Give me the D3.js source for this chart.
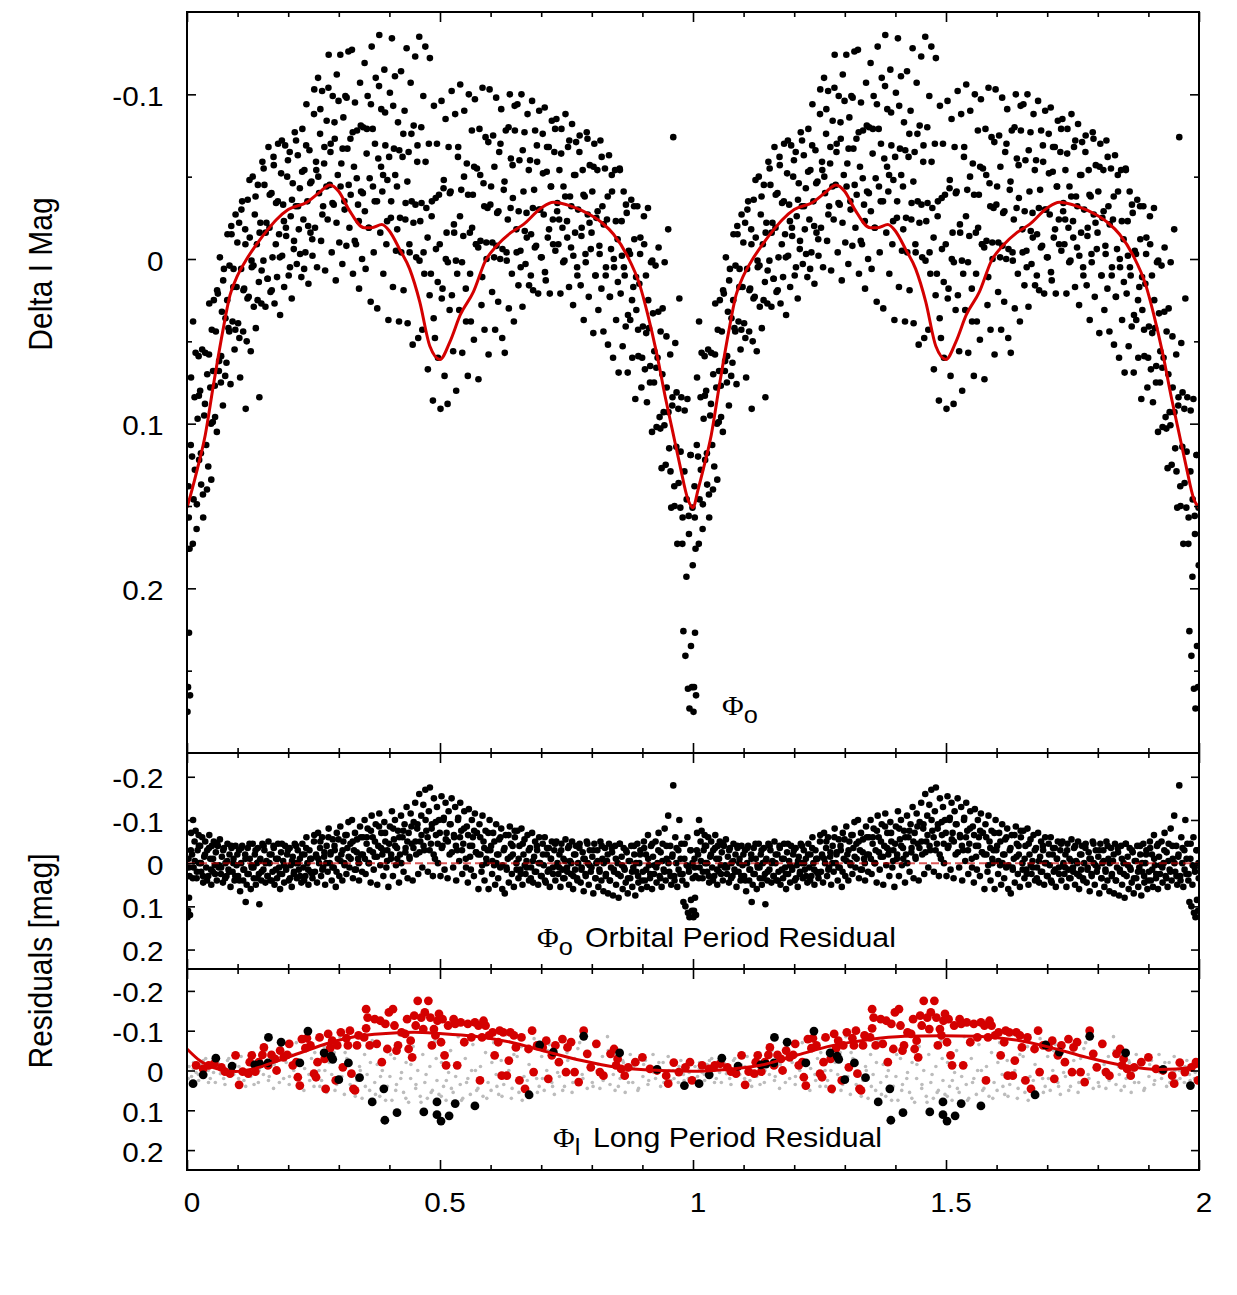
<!DOCTYPE html>
<html>
<head>
<meta charset="utf-8">
<script src="https://cdn.jsdelivr.net/npm/d3@7"></script>
<style>
  body { margin: 0; background: #fff; }
</style>
</head>
<body>
<div id="chart"></div>
<script>
// orbital light-curve model, one cycle [phase, delta I]
var orbitalModel = [[0,.151],[.01,.14],[.02,.128],[.036,.107],[.052,.077],[.07,.045],[.085,.022],[.1,.01],[.118,0],
  [.14,-.01],[.16,-.018],[.177,-.024],[.2,-.03],[.237,-.0345],[.26,-.04],[.283,-.045],[.3,-.041],[.32,-.03],
  [.35,-.019],[.365,-.019],[.385,-.021],[.4,-.017],[.42,-.006],[.44,.006],[.46,.026],[.48,.053],[.5,.061],
  [.52,.05],[.54,.034],[.566,.02],[.59,.001],[.612,-.008],[.64,-.016],[.665,-.021],[.7,-.031],[.724,-.0345],
  [.76,-.032],[.796,-.027],[.82,-.022],[.843,-.015],[.87,-.002],[.895,.016],[.91,.033],[.928,.057],[.946,.085],
  [.96,.105],[.974,.125],[.99,.146],[1,.151]];

// observations, one cycle [orbital phase, delta I, orbital residual]
var orbitalObs = [
  [.001,.275,.125],[.002,.26,.11],[.003,.138,-.01],[.004,.227,.08],[.005,.176,.03],[.006,.265,.12],[.008,.072,-.07],[.010,.12,-.02],[.012,.038,-.1],[.013,.146,.01],[.015,.084,-.05],[.017,.057,-.075],[.019,.164,.035],[.021,.097,-.03],[.023,.059,-.065],[.024,.122,0],
  [.026,.08,-.04],[.028,.137,.02],[.03,.055,-.06],[.032,.157,.045],[.034,.095,-.015],[.036,.057,-.05],[.038,.113,.01],[.04,.07,-.03],[.042,.126,.03],[.044,.027,-.065],[.046,.078,-.01],[.048,.134,.05],[.049,.043,-.04],
  [.051,.099,.02],[.053,.025,-.05],[.055,.077,.005],[.057,.044,-.025],[.059,.105,.04],[.061,.021,-.04],[.063,.068,.01],[.065,-.001,-.055],[.067,.075,.025],[.069,.032,-.015],[.071,.089,.045],[.073,.006,-.035],
  [.076,.036,0],[.078,.063,.03],[.08,-.015,-.045],[.082,.042,.015],[.084,.004,-.02],[.086,.076,.055],[.088,-.015,-.035],[.09,.038,.02],[.092,.006,-.01],[.094,.055,.04],[.096,-.027,-.04],[.098,.017,.005],
  [.101,.039,.03],[.103,-.022,-.03],[.105,.072,.065],[.107,.006,0],[.109,-.035,-.04],[.111,.044,.04],[.113,.018,.015],[.115,-.018,-.02],[.116,.091,.09],[.118,.05,.05],[.12,-.036,-.035],[.122,.023,.025],[.124,-.013,-.01],
  [.126,.056,.06],[.128,.005,.01],[.13,-.05,-.045],[.132,.029,.035],[.134,-.027,-.02],[.136,.042,.05],[.138,-.009,0],[.14,-.045,-.035],[.142,.014,.025],[.143,.084,.095],[.145,-.022,-.01],[.147,.027,.04],[.149,-.059,-.045],
  [.151,.001,.015],[.153,-.045,-.03],[.155,.029,.045],[.157,-.022,-.005],[.159,.012,.03],[.161,-.068,-.05],[.163,-.019,0],[.165,.02,.04],[.167,-.04,-.02],[.169,-.001,.02],[.171,-.062,-.04],[.173,.027,.05],
  [.176,-.034,-.01],[.178,.011,.035],[.18,-.07,-.045],[.182,-.015,.01],[.184,.034,.06],[.186,-.052,-.025],[.188,-.002,.025],[.19,-.033,-.005],[.192,.017,.045],[.194,-.069,-.04],[.196,-.014,.015],[.198,-.05,-.02],
  [.201,.01,.04],[.203,-.065,-.035],[.205,-.026,.005],[.207,.024,.055],[.209,-.046,-.015],[.211,-.006,.025],[.213,-.077,-.045],[.215,-.032,0],[.217,.003,.035],[.219,-.063,-.03],[.221,-.018,.015],[.223,-.043,-.01],
  [.226,.011,.045],[.228,-.079,-.045],[.23,-.024,.01],[.232,-.054,-.02],[.234,-.004,.03],[.236,-.094,-.06],[.238,-.035,0],[.24,.015,.05],[.242,-.066,-.03],[.244,-.016,.02],[.246,-.047,-.01],[.248,-.002,.035],
  [.251,-.088,-.05],[.253,-.019,.02],[.255,-.059,-.02],[.257,.005,.045],[.259,-.11,-.07],[.261,-.04,0],[.263,-.076,-.035],[.265,-.011,.03],[.267,-.102,-.06],[.269,-.032,.01],[.271,-.058,-.015],[.273,.007,.05],
  [.276,-.084,-.04],[.278,-.024,.02],[.28,-.124,-.08],[.282,-.045,0],[.284,-.07,-.025],[.286,-.004,.04],[.288,-.099,-.055],[.29,-.033,.01],[.292,-.073,-.03],[.294,.013,.055],[.296,-.112,-.07],[.298,-.051,-.01],
  [.301,-.01,.03],[.303,-.124,-.085],[.305,-.058,-.02],[.307,.003,.04],[.309,-.086,-.05],[.311,-.035,0],[.313,-.099,-.065],[.315,-.008,.025],[.317,-.067,-.035],[.319,-.126,-.095],[.321,-.019,.01],[.323,-.073,-.045],
  [.326,-.127,-.1],[.328,.009,.035],[.33,-.056,-.03],[.332,-.095,-.07],[.334,-.009,.015],[.336,-.078,-.055],[.338,-.033,-.01],[.34,.018,.04],[.342,-.107,-.085],[.344,-.041,-.02],[.346,0,.02],[.348,-.08,-.06],
  [.351,-.119,-.1],[.353,.006,.025],[.355,-.064,-.045],[.357,-.099,-.08],[.359,-.019,0],[.361,-.049,-.03],[.363,.026,.045],[.365,-.129,-.11],[.367,-.079,-.06],[.369,-.004,.015],[.371,-.035,-.015],[.373,-.11,-.09],
  [.376,.03,.05],[.378,-.061,-.04],[.38,-.136,-.115],[.382,-.016,.005],[.384,-.091,-.07],[.386,-.041,-.02],[.388,.009,.03],[.39,-.115,-.095],[.392,-.069,-.05],[.394,-.009,.01],[.396,-.048,-.03],[.398,.037,.055],
  [.401,-.101,-.085],[.403,-.025,-.01],[.405,-.134,-.12],[.407,.017,.03],[.409,-.067,-.055],[.411,-.111,-.1],[.413,-.005,.005],[.415,-.044,-.035],[.417,-.083,-.075],[.419,.038,.045],[.421,-.025,-.02],[.423,-.114,-.11],
  [.426,-.062,-.06],[.428,.019,.02],[.43,-.09,-.09],[.432,-.034,-.035],[.434,-.128,-.13],[.436,.039,.035],[.438,-.065,-.07],[.44,-.004,-.01],[.442,-.107,-.115],[.444,-.035,-.045],[.446,.052,.04],[.448,-.081,-.095],
  [.451,-.123,-.14],[.453,-.001,-.02],[.455,-.059,-.08],[.457,.048,.025],[.459,-.135,-.16],[.461,-.023,-.05],[.463,-.08,-.11],[.465,.043,.01],[.467,-.099,-.135],[.469,.009,-.03],[.471,-.129,-.17],[.473,-.031,-.075],
  [.476,.067,.02],[.478,-.07,-.12],[.48,-.122,-.175],[.482,.009,-.045],[.484,-.035,-.09],[.486,.086,.03],[.488,-.093,-.15],[.49,.048,-.01],[.492,-.006,-.065],[.494,-.07,-.13],[.496,.06,0],[.498,-.039,-.1],
  [.501,.091,.03],[.503,-.096,-.155],[.505,.018,-.04],[.507,-.043,-.1],[.509,.071,.015],[.511,-.085,-.14],[.513,-.016,-.07],[.515,.088,.035],[.517,-.068,-.12],[.519,.031,-.02],[.521,-.041,-.09],[.523,-.102,-.15],
  [.526,.056,.01],[.528,-.016,-.06],[.53,-.088,-.13],[.532,.08,.04],[.534,.009,-.03],[.536,-.068,-.105],[.538,.031,-.005],[.54,-.106,-.14],[.542,-.042,-.075],[.544,.057,.025],[.546,-.014,-.045],[.548,-.09,-.12],
  [.551,.018,-.01],[.553,-.058,-.085],[.555,.071,.045],[.557,-.1,-.125],[.559,-.016,-.04],[.561,.038,.015],[.563,-.078,-.1],[.565,-.039,-.06],[.567,.049,.03],[.569,-.097,-.115],[.571,-.009,-.025],[.573,-.055,-.07],
  [.576,.073,.06],[.578,-.079,-.09],[.58,-.011,-.02],[.582,.028,.02],[.584,-.104,-.11],[.586,-.046,-.05],[.588,.043,.04],[.59,-.074,-.075],[.592,0,0],[.594,-.031,-.03],[.596,.058,.06],[.598,-.103,-.1],
  [.601,-.044,-.04],[.603,.02,.025],[.605,-.075,-.07],[.607,-.001,.005],[.609,.043,.05],[.611,-.098,-.09],[.613,-.028,-.02],[.615,.026,.035],[.617,-.065,-.055],[.619,0,.01],[.621,-.091,-.08],[.623,.048,.06],
  [.626,-.042,-.03],[.628,.057,.07],[.63,-.078,-.065],[.632,.001,.015],[.634,-.024,-.01],[.636,.03,.045],[.638,-.1,-.085],[.64,-.061,-.045],[.642,.009,.025],[.644,-.037,-.02],[.646,.038,.055],[.648,-.078,-.06],
  [.651,-.018,0],[.653,-.094,-.075],[.655,.016,.035],[.657,-.06,-.04],[.659,-.005,.015],[.661,-.1,-.08],[.663,.029,.05],[.665,-.041,-.02],[.667,-.077,-.055],[.669,.003,.025],[.671,-.028,-.005],[.673,-.088,-.065],
  [.676,.016,.04],[.678,-.06,-.035],[.68,-.015,.01],[.682,-.096,-.07],[.684,.019,.045],[.686,-.042,-.015],[.688,-.078,-.05],[.69,-.008,.02],[.692,-.059,-.03],[.694,.021,.05],[.696,-.09,-.06],[.698,-.03,0],
  [.701,-.001,.03],[.703,-.076,-.045],[.705,-.027,.005],[.707,-.092,-.06],[.709,.013,.045],[.711,-.053,-.02],[.713,-.013,.02],[.715,-.068,-.035],[.717,.021,.055],[.719,-.044,-.01],[.721,-.084,-.05],[.723,-.024,.01],
  [.726,-.065,-.03],[.728,-.005,.04],[.73,-.085,-.05],[.732,-.034,0],[.734,-.009,.025],[.736,-.054,-.02],[.738,.021,.055],[.74,-.079,-.045],[.742,-.019,.015],[.744,-.044,-.01],[.746,.001,.035],[.748,-.088,-.055],
  [.751,-.023,.01],[.753,-.068,-.035],[.755,.017,.05],[.757,-.038,-.005],[.759,-.007,.025],[.761,-.082,-.05],[.763,.028,.06],[.765,-.051,-.02],[.767,-.016,.015],[.769,-.071,-.04],[.771,.005,.035],[.773,-.03,0],
  [.776,-.075,-.045],[.778,.016,.045],[.78,-.019,.01],[.782,-.054,-.025],[.784,.037,.065],[.786,-.038,-.01],[.788,.002,.03],[.79,-.077,-.05],[.792,-.027,0],[.794,.023,.05],[.796,-.057,-.03],[.798,-.006,.02],
  [.801,-.041,-.015],[.803,.045,.07],[.805,-.07,-.045],[.807,.01,.035],[.809,-.025,0],[.811,-.054,-.03],[.813,.031,.055],[.815,-.008,.015],[.817,-.072,-.05],[.819,.018,.04],[.821,-.032,-.01],[.823,.044,.065],
  [.826,-.055,-.035],[.828,.005,.025],[.83,-.024,-.005],[.832,.052,.07],[.834,-.063,-.045],[.836,.023,.04],[.838,-.006,.01],[.84,-.041,-.025],[.842,.06,.075],[.844,.005,.02],[.846,-.054,-.04],[.848,.037,.05],
  [.851,-.012,0],[.853,.069,.08],[.855,-.055,-.045],[.857,.021,.03],[.859,-.023,-.015],[.861,.053,.06],[.863,-.041,-.035],[.865,.01,.015],[.867,.041,.045],[.869,-.028,-.025],[.871,.069,.07],[.873,-.005,-.005],
  [.876,.037,.035],[.878,-.036,-.04],[.88,.06,.055],[.882,.017,.01],[.884,-.012,-.02],[.886,.085,.075],[.888,.031,.02],[.89,-.032,-.045],[.892,.059,.045],[.894,.015,0],[.896,-.013,-.03],[.898,.078,.06],
  [.901,.041,.02],[.903,-.026,-.05],[.905,.067,.04],[.907,.01,-.02],[.909,.087,.055],[.911,-.031,-.065],[.913,.042,.005],[.915,.075,.035],[.917,.002,-.04],[.919,.105,.06],[.921,.033,-.015],[.923,.075,.025],
  [.926,.004,-.05],[.928,.102,.045],[.93,.06,0],[.932,-.007,-.07],[.934,.096,.03],[.936,.044,-.025],[.938,.127,.055],[.94,.03,-.045],[.942,.093,.015],[.944,.002,-.08],[.946,.125,.04],[.948,.078,-.01],[.951,-.018,-.11],
  [.953,.115,.02],[.955,.058,-.04],[.957,.151,.05],[.959,.089,-.015],[.961,-.074,-.18],[.963,.138,.03],[.965,.051,-.06],[.967,.114,0],[.969,.173,.055],[.971,.091,-.03],[.973,.024,-.1],[.975,.151,.025],
  [.977,.084,-.045],[.979,.173,.04],[.981,.226,.09],[.983,.129,-.01],[.985,.241,.1],[.987,.193,.05],[.989,.085,-.06],[.99,.261,.115],[.992,.167,.02],[.993,.273,.125],[.995,.119,-.03],[.996,.235,.085],[.998,.26,.11],[.999,.151,0]
];

// second observing season, one cycle [orbital phase, delta I, orbital residual]
var orbitalObsLate = [
  [.0035,.157,.01],[.0075,.113,-.03],[.0115,.173,.035],[.0155,.128,-.005],[.0195,.149,.02],[.0235,.083,-.04],[.0275,.118,0],[.0315,.143,.03],[.0355,.088,-.02],[.0395,.14,.04],
  [.0435,.058,-.035],[.0475,.1,.015],[.0515,.068,-.01],[.0555,.096,.025],[.0595,.019,-.045],[.0635,.062,.005],[.0675,.059,.01],[.0715,.013,-.03],[.0755,.071,.035],[.0795,.025,-.005],
  [.0835,.044,.02],[.0875,-.02,-.04],[.0915,.017,0],[.0955,.043,.03],[.0995,-.01,-.02],[.1035,.048,.04],[.1075,-.03,-.035],[.1115,.019,.015],[.1155,-.009,-.01],[.1195,.024,.025],
  [.1235,-.048,-.045],[.1275,.001,.005],[.1315,.004,.01],[.1355,-.038,-.03],[.1395,.025,.035],[.1435,-.016,-.005],[.1475,.007,.02],[.1515,-.055,-.04],[.1555,-.016,0],[.1595,.012,.03],
  [.1635,-.039,-.02],[.1675,.019,.04],[.1715,-.057,-.035],[.1755,-.009,.015],[.1795,-.035,-.01],[.1835,-.001,.025],[.1875,-.072,-.045],[.1915,-.023,.005],[.1955,-.019,.01],[.1995,-.06,-.03],
  [.2035,.005,.035],[.2075,-.036,-.005],[.2115,-.011,.02],[.2155,-.072,-.04],[.2195,-.032,0],[.2235,-.003,.03],[.2275,-.053,-.02],[.2315,.006,.04],[.2355,-.069,-.035],[.2395,-.02,.015],
  [.2435,-.046,-.01],[.2475,-.012,.025],[.2515,-.103,-.065],[.2555,-.054,-.015],[.2595,-.05,-.01],[.2635,-.091,-.05],[.2675,-.027,.015],[.2715,-.068,-.025],[.2755,-.044,0],[.2795,-.104,-.06],
  [.2835,-.065,-.02],[.2875,-.034,.01],[.2915,-.083,-.04],[.2955,-.022,.02],[.2995,-.096,-.055],[.3035,-.044,-.005],[.3075,-.067,-.03],[.3115,-.03,.005],[.3155,-.098,-.065],[.3195,-.045,-.015],
  [.3235,-.039,-.01],[.3275,-.077,-.05],[.3315,-.011,.015],[.3355,-.049,-.025],[.3395,-.023,0],[.3435,-.081,-.06],[.3475,-.04,-.02],[.3515,-.029,-.01],[.3555,-.079,-.06],[.3595,-.019,0],
  [.3635,-.094,-.075],[.3675,-.044,-.025],[.3715,-.07,-.05],[.3755,-.035,-.015],[.3795,-.105,-.085],[.3835,-.056,-.035],[.3875,-.051,-.03],[.3915,-.089,-.07],[.3955,-.023,-.005],[.3995,-.062,-.045],
  [.4035,-.035,-.02],[.4075,-.093,-.08],[.4115,-.051,-.04],[.4155,-.018,-.01],[.4195,-.066,-.06],[.4235,-.004,0],[.4275,-.076,-.075],[.4315,-.024,-.025],[.4355,-.047,-.05],[.4395,-.009,-.015],
  [.4435,-.076,-.085],[.4475,-.022,-.035],[.4515,-.033,-.05],[.4555,-.069,-.09],[.4595,.001,-.025],[.4635,-.034,-.065],[.4675,-.004,-.04],[.4715,-.059,-.1],[.4755,-.013,-.06],[.4795,.022,-.03],
  [.4835,-.026,-.08],[.4875,.036,-.02],[.4915,-.037,-.095],[.4955,.014,-.045],[.4995,-.009,-.07],[.5035,.024,-.035],[.5075,-.048,-.105],[.5115,0,-.055],[.5155,.002,-.05],[.5195,-.04,-.09],
  [.5235,.022,-.025],[.5275,-.021,-.065],[.5315,.001,-.04],[.5355,-.062,-.1],[.5395,-.026,-.06],[.5435,.002,-.03],[.5475,-.05,-.08],[.5515,.038,.01],[.5555,-.039,-.065],[.5595,.009,-.015],
  [.5635,-.019,-.04],[.5675,-.056,-.075],[.5715,-.009,-.025],[.5755,-.007,-.02],[.5795,-.051,-.06],[.5835,.011,.005],[.5875,-.032,-.035],[.5915,-.01,-.01],[.5955,-.071,-.07],[.5995,-.033,-.03],
  [.6035,-.01,-.005],[.6075,-.056,-.05],[.6115,-.008,0],[.6155,-.029,-.02],[.6195,-.07,-.06],[.6235,-.006,.005],[.6275,-.047,-.035],[.6315,-.004,.01],[.6355,-.08,-.065],[.6395,-.031,-.015],
  [.6435,-.057,-.04],[.6475,-.093,-.075],[.6515,-.004,.015],[.6555,-.029,-.01],[.6595,.005,.025],[.6635,-.066,-.045],[.6675,-.017,.005],[.6715,-.013,.01],[.6755,-.054,-.03],[.6795,.01,.035],
  [.6835,-.031,-.005],[.6875,-.007,.02],[.6915,-.069,-.04],[.6955,-.03,0],[.6995,-.001,.03],[.7035,-.052,-.02],[.7075,.008,.04],[.7115,-.068,-.035],[.7155,-.018,.015],[.7195,-.044,-.01],
  [.7235,-.009,.025],[.7275,-.079,-.045],[.7315,-.029,.005],[.7355,-.024,.01],[.7395,-.064,-.03],[.7435,.002,.035],[.7475,-.038,-.005],[.7515,-.013,.02],[.7555,-.072,-.04],[.7595,-.032,0],
  [.7635,-.002,.03],[.7675,-.051,-.02],[.7715,.01,.04],[.7755,-.065,-.035],[.7795,-.014,.015],[.7835,-.039,-.01],[.7875,-.003,.025],[.7915,-.073,-.045],[.7955,-.022,.005],[.7995,-.016,.01],
  [.8035,-.056,-.03],[.8075,.01,.035],[.8115,-.029,-.005],[.8155,-.003,.02],[.8195,-.062,-.04],[.8235,-.021,0],[.8275,.01,.03],[.8315,-.038,-.02],[.8355,.023,.04],[.8395,-.051,-.035],
  [.8435,0,.015],[.8475,-.023,-.01],[.8515,.014,.025],[.8555,-.054,-.045],[.8595,-.002,.005],[.8635,.005,.01],[.8675,-.033,-.03],[.8715,.034,.035],[.8755,-.003,-.005],[.8795,.025,.02],
  [.8835,-.032,-.04],[.8875,.011,0],[.8915,.043,.03],[.8955,-.003,-.02],[.8995,.06,.04],[.9035,-.009,-.035],[.9075,.045,.015],[.9115,.025,-.01],[.9155,.065,.025],[.9195,.001,-.045],
  [.9235,.056,.005],[.9275,.066,.01],[.9315,.032,-.03],[.9355,.103,.035],[.9395,.07,-.005],[.9435,.101,.02],[.9475,.047,-.04],[.9515,.093,0],[.9555,.129,.03],[.9595,.084,-.02],
  [.9635,.15,.04],[.9675,.081,-.035],[.9715,.136,.015],[.9755,.117,-.01],[.9795,.157,.025],[.9835,.092,-.045],[.9875,.146,.005],[.9915,.156,.01],[.9955,.119,-.03],[.9995,.186,.035]
];

// long-period model over the plotted range [phase, residual]
var longModel = [[0,-.054],[.025,-.025],[.06,-.004],[.096,.0025],[.131,-.004],[.181,-.025],[.223,-.044],[.28,-.069],
  [.336,-.086],[.393,-.093],[.449,-.096],[.499,-.093],[.569,-.086],[.64,-.071],[.71,-.0475],[.78,-.025],[.85,-.008],
  [.935,0],[1,.002],[1.059,-.002],[1.131,-.0125],[1.203,-.0375],[1.275,-.0625],[1.346,-.0775],[1.418,-.086],
  [1.49,-.0875],[1.562,-.086],[1.634,-.0775],[1.706,-.058],[1.778,-.033],[1.85,-.0125],[1.92,-.0025],[1.99,-.008],[2,-.0125]];

// long-period residuals, one cycle [phase, residual]
var longGrey = [
  [.004,-.01],[.009,.015],[.013,-.02],[.018,.005],[.023,.025],[.028,-.015],[.032,.01],[.037,-.03],[.042,0],[.046,.02],[.051,-.01],[.056,.03],[.061,-.02],[.066,.008],[.071,-.005],[.075,.035],[.08,-.025],[.085,.012],[.09,0],[.095,-.015],
  [.102,.02],[.107,-.035],[.111,.005],[.116,.04],[.121,-.015],[.126,.015],[.131,-.045],[.136,0],[.141,.03],[.146,-.025],[.151,.01],[.156,-.05],[.161,.025],[.166,-.01],[.171,.045],[.176,-.03],[.181,.005],[.186,-.06],[.191,.02],[.196,-.02],
  [.202,.035],[.206,-.04],[.211,0],[.216,-.07],[.221,.02],[.226,-.015],[.231,.05],[.236,-.05],[.241,.01],[.246,-.03],[.251,.04],[.256,-.08],[.261,0],[.266,.025],[.271,-.06],[.276,.055],[.281,-.02],[.286,.01],[.291,-.045],[.296,.035],
  [.302,-.085],[.306,.015],[.311,.06],[.316,-.03],[.321,.005],[.326,.045],[.331,-.06],[.336,.025],[.341,-.01],[.346,.07],[.351,-.04],[.356,.01],[.361,.05],[.366,-.075],[.371,.03],[.376,-.015],[.381,.065],[.386,0],[.391,-.05],[.396,.04],
  [.401,.015],[.405,.075],[.41,-.03],[.414,.035],[.419,-.09],[.424,.005],[.428,.055],[.433,-.02],[.438,.08],[.442,.02],[.447,-.06],[.452,.045],[.456,0],[.461,.065],[.466,-.04],[.47,.03],[.475,.07],[.48,-.01],[.485,.05],[.49,-.075],[.494,.025],[.498,.06],
  [.503,-.02],[.507,.04],[.512,.075],[.517,.005],[.521,-.05],[.526,.055],[.531,.015],[.536,-.085],[.54,.035],[.545,.07],[.55,-.03],[.555,.02],[.56,.06],[.565,-.065],[.57,0],[.575,.045],[.58,-.01],[.585,.065],[.59,-.045],[.595,.03],
  [.601,.05],[.606,-.07],[.611,.01],[.616,.06],[.621,-.025],[.626,.035],[.631,-.09],[.636,0],[.641,.07],[.646,-.04],[.651,.025],[.656,.055],[.661,-.06],[.666,.015],[.671,.045],[.676,-.015],[.681,.065],[.686,-.08],[.691,.02],[.696,.04],
  [.701,-.035],[.706,.05],[.711,0],[.716,-.065],[.721,.03],[.726,.06],[.731,-.02],[.736,.015],[.741,-.08],[.746,.04],[.751,-.045],[.756,.005],[.761,.055],[.766,-.03],[.771,.025],[.776,-.07],[.781,.01],[.786,-.105],[.791,.045],[.796,-.015],
  [.801,.03],[.806,-.06],[.811,0],[.816,.045],[.821,-.035],[.826,.015],[.831,-.085],[.836,.035],[.841,-.01],[.846,.05],[.851,-.05],[.856,.02],[.861,-.025],[.866,.055],[.871,0],[.876,-.04],[.881,.03],[.886,-.015],[.891,.05],[.896,-.03],
  [.901,.015],[.906,-.025],[.911,.035],[.916,0],[.921,-.04],[.926,.02],[.931,-.01],[.936,.04],[.941,-.02],[.946,.01],[.951,-.035],[.956,.025],[.961,0],[.966,-.015],[.971,.03],[.976,-.025],[.981,.01],[.986,-.005],[.991,.02],[.996,-.02],
  [.0025,.02],[.0125,-.005],[.0225,.01],[.0325,-.025],[.0425,.03],[.0525,.005],[.0625,-.015],[.0725,.02],[.0825,-.03],[.0925,.01],
  [.1025,-.01],[.1125,.025],[.1225,-.02],[.1325,.035],[.1425,0],[.1525,-.035],[.1625,.015],[.1725,-.015],[.1825,.03],[.1925,-.04],
  [.2025,.015],[.2125,-.025],[.2225,.045],[.2325,-.005],[.2425,.025],[.2525,-.045],[.2625,.04],[.2725,0],[.2825,-.03],[.2925,.05],
  [.3025,.02],[.3125,-.045],[.3225,.035],[.3325,.065],[.3425,0],[.3525,.04],[.3625,-.02],[.3725,.06],[.3825,.015],[.3925,.075],
  [.4025,-.04],[.4125,.05],[.4225,.02],[.4325,.07],[.4425,-.015],[.4525,.035],[.4625,.08],[.4725,.01],[.4825,.055],[.4925,-.03],
  [.5025,.065],[.5125,.025],[.5225,.045],[.5325,-.01],[.5425,.075],[.5525,.03],[.5625,0],[.5725,.05],[.5825,.02],[.5925,.07],
  [.6025,-.02],[.6125,.04],[.6225,.065],[.6325,.01],[.6425,.045],[.6525,-.035],[.6625,.075],[.6725,.025],[.6825,0],[.6925,.055],
  [.7025,.02],[.7125,-.05],[.7225,.04],[.7325,.005],[.7425,.05],[.7525,-.025],[.7625,.03],[.7725,-.055],[.7825,.02],[.7925,-.035],
  [.8025,.04],[.8125,-.015],[.8225,.025],[.8325,-.05],[.8425,.01],[.8525,.04],[.8625,-.02],[.8725,.03],[.8825,-.01],[.8925,.045],
  [.9025,-.015],[.9125,.025],[.9225,.005],[.9325,-.02],[.9425,.03],[.9525,0],[.9625,.02],[.9725,-.01],[.9825,.025],[.9925,.005]
];

var longRed = [[.018,-.013],[.032,-.004],[.043,-.013],[.054,-.017],[.068,-.008],[.075,.003],[.085,.008],[.096,-.038],[.103,.036],[.11,.003],
  [.121,.008],[.124,-.021],[.128,-.038],[.135,.003],[.142,-.021],[.149,-.039],[.152,-.058],[.16,-.013],[.167,-.039],[.174,-.029],[.177,0],
  [.184,-.05],[.191,-.033],[.198,-.039],[.202,-.067],[.209,-.013],[.216,-.021],[.219,.017],[.223,.038],[.227,-.079],[.234,-.056],[.237,-.081],
  [.244,-.063],[.251,.008],[.255,.017],[.258,-.021],[.262,-.083],[.272,-.029],[.274,.046],[.279,-.092],[.283,-.056],[.287,-.075],[.294,.025],
  [.297,-.063],[.304,-.096],[.308,-.008],[.315,-.081],[.318,-.063],[.322,-.1],[.325,.008],[.329,.046],[.332,.05],[.336,-.063],[.339,-.088],
  [.35,-.083],[.354,-.106],[.354,-.154],[.357,-.133],[.361,-.063],[.371,-.129],[.375,-.067],[.382,-.125],[.385,-.021],[.392,-.117],[.396,-.054],
  [.399,-.146],[.407,-.154],[.41,-.113],[.414,-.05],[.417,-.063],[.424,-.096],[.431,-.092],[.435,-.129],[.438,-.054],[.442,-.075],[.445,-.033],
  [.449,-.138],[.452,-.113],[.456,-.175],[.463,-.133],[.467,-.104],[.47,-.146],[.477,-.175],[.481,-.133],[.484,-.063],[.488,-.104],[.491,-.088],
  [.495,-.125],[.498,-.142],[.502,-.071],[.505,-.129],[.509,-.038],[.512,-.013],[.516,-.113],[.527,-.129],[.53,-.117],[.534,-.013],[.541,-.121],
  [.548,-.071],[.555,-.117],[.562,-.083],[.569,-.121],[.576,-.113],[.579,.025],[.583,-.083],[.586,-.125],[.59,-.113],[.597,-.088],[.604,-.096],
  [.608,-.038],[.615,-.071],[.618,-.1],[.622,.013],[.625,-.096],[.632,.013],[.636,-.025],[.639,-.096],[.646,-.088],[.65,-.058],[.657,.025],
  [.661,-.083],[.668,.046],[.675,-.054],[.682,-.1],[.685,.004],[.692,-.063],[.703,-.058],[.71,-.075],[.714,.021],[.721,-.038],[.728,-.063],
  [.735,-.021],[.742,-.079],[.749,.004],[.752,-.058],[.759,-.071],[.766,.004],[.774,.029],[.784,-.1],[.791,-.042],[.798,-.008],[.809,-.067],
  [.816,.004],[.823,.013],[.837,-.042],[.844,-.054],[.848,-.013],[.851,-.029],[.858,-.004],[.865,.013],[.872,-.008],[.886,-.021],[.9,-.033],
  [.915,-.004],[.929,0],[.947,.013],[.951,.033],[.962,-.02],[.972,.004],[.985,-.008],[.994,-.021],[.998,.025]];

var longBlack = [[.012,.033],[.032,.011],[.057,-.031],[.089,-.011],[.134,-.014],[.144,-.016],[.16,-.019],[.161,-.083],[.186,-.071],
  [.223,-.019],[.239,-.099],[.271,-.044],[.285,-.036],[.288,-.028],[.3,.023],[.319,-.019],[.341,.018],[.366,.079],[.389,.046],[.391,.125],
  [.415,.106],[.468,.104],[.494,.111],[.494,.079],[.502,.127],[.518,.114],[.53,.083],[.569,.089],[.676,.061],[.697,-.064],[.724,-.046],
  [.784,-.086],[.855,-.044],[.929,-.003],[.983,.038]];

var xMajor = [0, 0.5, 1, 1.5, 2];
var xMinor = [0.1,0.2,0.3,0.4,0.6,0.7,0.8,0.9,1.1,1.2,1.3,1.4,1.6,1.7,1.8,1.9];
var magMajor = [-0.1, 0, 0.1, 0.2];
var magMinor = [-0.05, 0.05, 0.15, 0.25];
var residTicks = [-0.2, -0.1, 0, 0.1, 0.2];

var chartWidth = 1237, chartHeight = 1295;
var plotLeft = 187, plotRight = 1199;
var sans = "'Liberation Sans', Arial, Helvetica, sans-serif";
var serif = "'Liberation Serif', 'Times New Roman', serif";
var red = "#d40000";
var stretch = 1.1;

// phase-folded data are plotted over two cycles
function twoCycles(rows) {
  return rows.concat(rows.map(function(d) { return [d[0] + 1].concat(d.slice(1)); }));
}

var svg = d3.select("#chart").append("svg")
    .attr("width", chartWidth)
    .attr("height", chartHeight)
    .style("background", "#fff");

var x = d3.scaleLinear().domain([0, 2]).range([plotLeft, plotRight]);

var panels = [
  {id: "top", y0: 12, y1: 753, domain: [-0.15, 0.3], major: magMajor, minor: magMinor, len: 9},
  {id: "mid", y0: 753, y1: 969, domain: [-0.255, 0.245], major: residTicks, minor: [], len: 8},
  {id: "bot", y0: 969, y1: 1170, domain: [-0.255, 0.25], major: residTicks, minor: [], len: 8}
];
panels.forEach(function(p) {
  p.y = d3.scaleLinear().domain(p.domain).range([p.y0, p.y1]);
  svg.append("clipPath").attr("id", "clip-" + p.id)
    .append("rect")
      .attr("x", plotLeft).attr("y", p.y0)
      .attr("width", plotRight - plotLeft).attr("height", p.y1 - p.y0);
  p.g = svg.append("g").attr("clip-path", "url(#clip-" + p.id + ")");
});

var topP = panels[0], midP = panels[1], botP = panels[2];
var obs = twoCycles(orbitalObs.concat(orbitalObsLate));

// top panel: light curve + model
topP.g.append("g").selectAll("circle")
    .data(obs)
  .enter().append("circle")
    .attr("cx", function(d) { return x(d[0]); })
    .attr("cy", function(d) { return topP.y(d[1]); })
    .attr("r", 3.3)
    .attr("fill", "#000");

var model = orbitalModel.concat(orbitalModel.slice(1).map(function(d) { return [d[0] + 1, d[1]]; }));
topP.g.append("path")
    .datum(model)
    .attr("fill", "none")
    .attr("stroke", red)
    .attr("stroke-width", 3)
    .attr("d", d3.line()
      .x(function(d) { return x(d[0]); })
      .y(function(d) { return topP.y(d[1]); })
      .curve(d3.curveMonotoneX));

// middle panel: orbital residuals
midP.g.append("g").selectAll("circle")
    .data(obs)
  .enter().append("circle")
    .attr("cx", function(d) { return x(d[0]); })
    .attr("cy", function(d) { return midP.y(d[2]); })
    .attr("r", 3.3)
    .attr("fill", "#000");

midP.g.append("line")
    .attr("x1", plotLeft).attr("x2", plotRight)
    .attr("y1", midP.y(0)).attr("y2", midP.y(0))
    .attr("stroke", "#c80000")
    .attr("stroke-opacity", 0.65)
    .attr("stroke-width", 2)
    .attr("stroke-dasharray", "8,4");

// bottom panel: long-period residuals
function dots(g, rows, r, color) {
  g.append("g").selectAll("circle")
      .data(twoCycles(rows))
    .enter().append("circle")
      .attr("cx", function(d) { return x(d[0]); })
      .attr("cy", function(d) { return botP.y(d[1]); })
      .attr("r", r)
      .attr("fill", color);
}
dots(botP.g, longGrey, 1.8, "#bcbcbc");
dots(botP.g, longRed, 4.4, red);
dots(botP.g, longBlack, 4.4, "#000");

botP.g.append("path")
    .datum(longModel)
    .attr("fill", "none")
    .attr("stroke", red)
    .attr("stroke-width", 3)
    .attr("d", d3.line()
      .x(function(d) { return x(d[0]); })
      .y(function(d) { return botP.y(d[1]); })
      .curve(d3.curveMonotoneX));

// frames, ticks and tick labels
function fmt(d) { return String(d); }

function styleAxis(sel) {
  sel.select(".domain").remove();
  sel.selectAll(".tick line").attr("stroke", "#000").attr("stroke-width", 1.6);
  sel.attr("font-family", sans).attr("font-size", 27);
  sel.selectAll("text").attr("fill", "#000");
}

panels.forEach(function(p, i) {
  var g = svg.append("g");
  var last = i === panels.length - 1;

  g.append("g").attr("transform", "translate(0," + p.y1 + ")")
    .call(d3.axisBottom(x).tickValues(xMinor).tickSize(-5).tickFormat(""))
    .call(styleAxis);
  var xb = g.append("g").attr("transform", "translate(0," + p.y1 + ")")
    .call(d3.axisBottom(x).tickValues(xMajor).tickSize(-10).tickPadding(22.8)
      .tickFormat(last ? fmt : ""))
    .call(styleAxis);
  xb.selectAll("text")
    .attr("x", 4.5 / stretch)
    .attr("transform", "scale(" + stretch + ",1)");

  g.append("g").attr("transform", "translate(0," + p.y0 + ")")
    .call(d3.axisTop(x).tickValues(xMinor).tickSize(-5).tickFormat(""))
    .call(styleAxis);
  g.append("g").attr("transform", "translate(0," + p.y0 + ")")
    .call(d3.axisTop(x).tickValues(xMajor).tickSize(-10).tickFormat(""))
    .call(styleAxis);

  var yl = g.append("g").attr("transform", "translate(" + plotLeft + ",0)")
    .call(d3.axisLeft(p.y).tickValues(p.major).tickSize(-p.len).tickPadding(23.5).tickFormat(fmt))
    .call(styleAxis);
  yl.selectAll("text")
    .attr("x", -23.5 / stretch)
    .attr("dy", "0.41em")
    .attr("transform", "scale(" + stretch + ",1)");

  g.append("g").attr("transform", "translate(" + plotRight + ",0)")
    .call(d3.axisRight(p.y).tickValues(p.major).tickSize(-p.len).tickFormat(""))
    .call(styleAxis);

  if (p.minor.length) {
    g.append("g").attr("transform", "translate(" + plotLeft + ",0)")
      .call(d3.axisLeft(p.y).tickValues(p.minor).tickSize(-5).tickFormat(""))
      .call(styleAxis);
    g.append("g").attr("transform", "translate(" + plotRight + ",0)")
      .call(d3.axisRight(p.y).tickValues(p.minor).tickSize(-5).tickFormat(""))
      .call(styleAxis);
  }

  g.append("rect")
    .attr("x", plotLeft).attr("y", p.y0)
    .attr("width", plotRight - plotLeft).attr("height", p.y1 - p.y0)
    .attr("fill", "none")
    .attr("stroke", "#000")
    .attr("stroke-width", 2);
});

// axis titles
function vtitle(txt, cx, cy) {
  svg.append("text")
    .attr("transform", "translate(" + cx + "," + cy + ") scale(" + stretch + ",1) rotate(-90)")
    .attr("text-anchor", "middle")
    .attr("font-family", sans)
    .attr("font-size", 30)
    .attr("fill", "#000")
    .text(txt);
}
vtitle("Delta I Mag", 52, 274);
vtitle("Residuals [mag]", 52, 961);

// phase labels: Φ with subscript, optional caption
function phaseLabel(px, py, sub, caption, captionX) {
  var t = svg.append("text")
    .attr("transform", "translate(" + px + "," + py + ") scale(" + stretch + ",1)")
    .attr("fill", "#000");
  t.append("tspan").attr("font-family", serif).attr("font-size", 27).text("\u03A6");
  t.append("tspan").attr("font-family", sans).attr("font-size", 23).attr("dy", 8).text(sub);
  if (caption) {
    t.append("tspan")
      .attr("font-family", sans).attr("font-size", 27.5)
      .attr("x", (captionX - px) / stretch).attr("dy", -8)
      .text(caption);
  }
}
phaseLabel(722, 715, "o");
phaseLabel(537, 947, "o", "Orbital Period Residual", 585);
phaseLabel(553, 1147, "l", "Long Period Residual", 593);
</script>
</body>
</html>
